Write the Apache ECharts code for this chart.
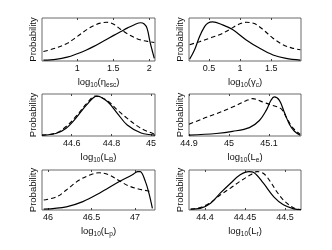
<!DOCTYPE html>
<html><head><meta charset="utf-8">
<script src="https://cdn.jsdelivr.net/npm/echarts@6/dist/echarts.min.js"></script>
<style>html,body{margin:0;padding:0;background:#fff}#c{width:332px;height:250px}</style>
</head><body><div id="c"></div>
<script>
// Panel 1: log10(eta_esc)
const etaSolidX = [0.53,0.70,0.86,1.00,1.12,1.23,1.36,1.50,1.60,1.70,1.80,1.88,1.93,1.97,2.01,2.04,2.07];
const etaSolidY = [0.02,0.04,0.09,0.17,0.25,0.34,0.46,0.59,0.68,0.77,0.85,0.89,0.86,0.76,0.45,0.25,0.06];
const etaDashX = [0.53,0.70,0.86,1.00,1.14,1.25,1.32,1.41,1.50,1.60,1.69,1.83,1.93,2.00,2.07];
const etaDashY = [0.22,0.30,0.41,0.57,0.74,0.84,0.88,0.90,0.86,0.74,0.64,0.52,0.47,0.45,0.43];
// Panel 2: log10(gamma_c)
const gamSolidX = [0.19,0.27,0.35,0.43,0.48,0.56,0.72,0.88,1.10,1.31,1.53,1.74,1.97];
const gamSolidY = [0.04,0.26,0.57,0.80,0.88,0.91,0.84,0.73,0.49,0.30,0.14,0.06,0.02];
const gamDashX = [0.19,0.35,0.51,0.67,0.83,0.96,1.10,1.23,1.37,1.53,1.69,1.84,1.97];
const gamDashY = [0.38,0.45,0.53,0.61,0.73,0.84,0.90,0.87,0.73,0.53,0.38,0.30,0.26];
// Panel 3: log10(L_B)
const lbSolidX = [44.45,44.52,44.57,44.62,44.675,44.727,44.78,44.83,44.88,44.95,45.02];
const lbSolidY = [0.02,0.06,0.18,0.42,0.74,0.95,0.82,0.54,0.26,0.07,0.02];
const lbDashX = [44.45,44.52,44.57,44.62,44.675,44.72,44.78,44.83,44.88,44.95,45.02];
const lbDashY = [0.02,0.07,0.22,0.46,0.77,0.95,0.84,0.62,0.42,0.18,0.04];
// Panel 4: log10(L_e)
const leSolidX = [44.90,44.968,45.009,45.051,45.076,45.093,45.105,45.113,45.126,45.138,45.151,45.163,45.178];
const leSolidY = [0.02,0.06,0.11,0.20,0.37,0.61,0.85,0.93,0.85,0.57,0.28,0.12,0.02];
const leDashX = [44.90,44.934,44.968,45.009,45.043,45.059,45.084,45.109,45.13,45.143,45.159,45.178];
const leDashY = [0.28,0.41,0.53,0.69,0.84,0.89,0.81,0.73,0.65,0.45,0.20,0.04];
// Panel 5: log10(L_p)
const lpSolidX = [45.95,46.21,46.40,46.59,46.82,46.97,47.03,47.06,47.12,47.16,47.20];
const lpSolidY = [0.02,0.08,0.21,0.42,0.71,0.88,0.96,0.96,0.71,0.42,0.04];
const lpDashX = [45.95,46.10,46.21,46.36,46.51,46.59,46.70,46.82,46.93,47.05,47.14,47.20];
const lpDashY = [0.25,0.33,0.50,0.75,0.90,0.93,0.88,0.73,0.60,0.52,0.48,0.46];
// Panel 6: log10(L_r)
const lrSolidX = [44.382,44.394,44.407,44.419,44.432,44.444,44.455,44.461,44.473,44.486,44.498,44.511,44.520];
const lrSolidY = [0.02,0.04,0.17,0.42,0.67,0.88,0.96,0.94,0.67,0.33,0.13,0.03,0.01];
const lrDashX = [44.382,44.394,44.407,44.419,44.432,44.444,44.457,44.465,44.474,44.482,44.49,44.498,44.51,44.520];
const lrDashY = [0.02,0.06,0.19,0.375,0.55,0.72,0.88,0.96,0.90,0.70,0.45,0.25,0.06,0.01];

const xMins = [0.51, 0.18, 44.45, 44.90, 45.93, 44.38];
const xMaxs = [2.08, 1.98, 45.02, 45.18, 47.23, 44.52];
const xTicks = [[1,1.5,2],[0.5,1,1.5],[44.6,44.8,45],[44.9,45,45.1],[46,46.5,47],[44.4,44.45,44.5]];
const xNames = ['log{s|10}(η{s|esc})','log{s|10}(γ{s|c})','log{s|10}(L{s|B})','log{s|10}(L{s|e})','log{s|10}(L{s|p})','log{s|10}(L{s|r})'];
const yName = 'Probability';

const panels = [
  [etaSolidX, etaSolidY, etaDashX, etaDashY],
  [gamSolidX, gamSolidY, gamDashX, gamDashY],
  [lbSolidX, lbSolidY, lbDashX, lbDashY],
  [leSolidX, leSolidY, leDashX, leDashY],
  [lpSolidX, lpSolidY, lpDashX, lpDashY],
  [lrSolidX, lrSolidY, lrDashX, lrDashY]
];
const zip = (a,b) => a.map((v,i)=>[v,b[i]]);

const gridPos = [
  {left:42,top:18,width:113,height:43},
  {left:189,top:18,width:112,height:43},
  {left:42,top:94,width:113,height:42},
  {left:189,top:94,width:112,height:42},
  {left:42,top:170,width:113,height:40},
  {left:189,top:170,width:112,height:40}
];
const font = 'Liberation Sans';
const grid = [], xAxis = [], yAxis = [], series = [];
gridPos.forEach((g,i)=>{
  grid.push(Object.assign({show:true, borderColor:'#444', borderWidth:0.8, backgroundColor:'#fff'}, g));
  xAxis.push({type:'value', gridIndex:i, min:xMins[i], max:xMaxs[i],
    axisLine:{show:false}, splitLine:{show:false},
    axisTick:{inside:true, length:2, lineStyle:{color:'#444'}, customValues:xTicks[i]},
    axisLabel:{customValues:xTicks[i], color:'#111', fontSize:9, fontFamily:font, margin:3},
    name:xNames[i], nameLocation:'middle', nameGap:15,
    nameTextStyle:{color:'#111', fontSize:9.5, fontFamily:font,
      rich:{s:{fontSize:6.5, fontFamily:font, color:'#111', padding:[6,0,0,0]}}}
  });
  xAxis.push({type:'value', gridIndex:i, position:'top', min:xMins[i], max:xMaxs[i],
    axisLine:{show:false}, splitLine:{show:false}, axisLabel:{show:false},
    axisTick:{inside:true, length:2, lineStyle:{color:'#444'}, customValues:xTicks[i]}});
  yAxis.push({type:'value', gridIndex:i, min:0, max:1,
    axisLine:{show:false}, splitLine:{show:false}, axisTick:{show:false}, axisLabel:{show:false},
    name:yName, nameLocation:'middle', nameGap:4,
    nameTextStyle:{color:'#111', fontSize:9.5, fontFamily:font}});
  const p = panels[i];
  series.push({type:'line', xAxisIndex:2*i, yAxisIndex:i, data:zip(p[0],p[1]), smooth:0.35, showSymbol:false,
    lineStyle:{color:'#000', width:1.2}, silent:true});
  series.push({type:'line', xAxisIndex:2*i, yAxisIndex:i, data:zip(p[2],p[3]), smooth:0.35, showSymbol:false,
    lineStyle:{color:'#000', width:1.1, type:[4.5,3]}, silent:true});
});
const chart = echarts.init(document.getElementById('c'), null, {renderer:'canvas'});
chart.setOption({animation:false, backgroundColor:'#fff', grid, xAxis, yAxis, series});
</script></body></html>
